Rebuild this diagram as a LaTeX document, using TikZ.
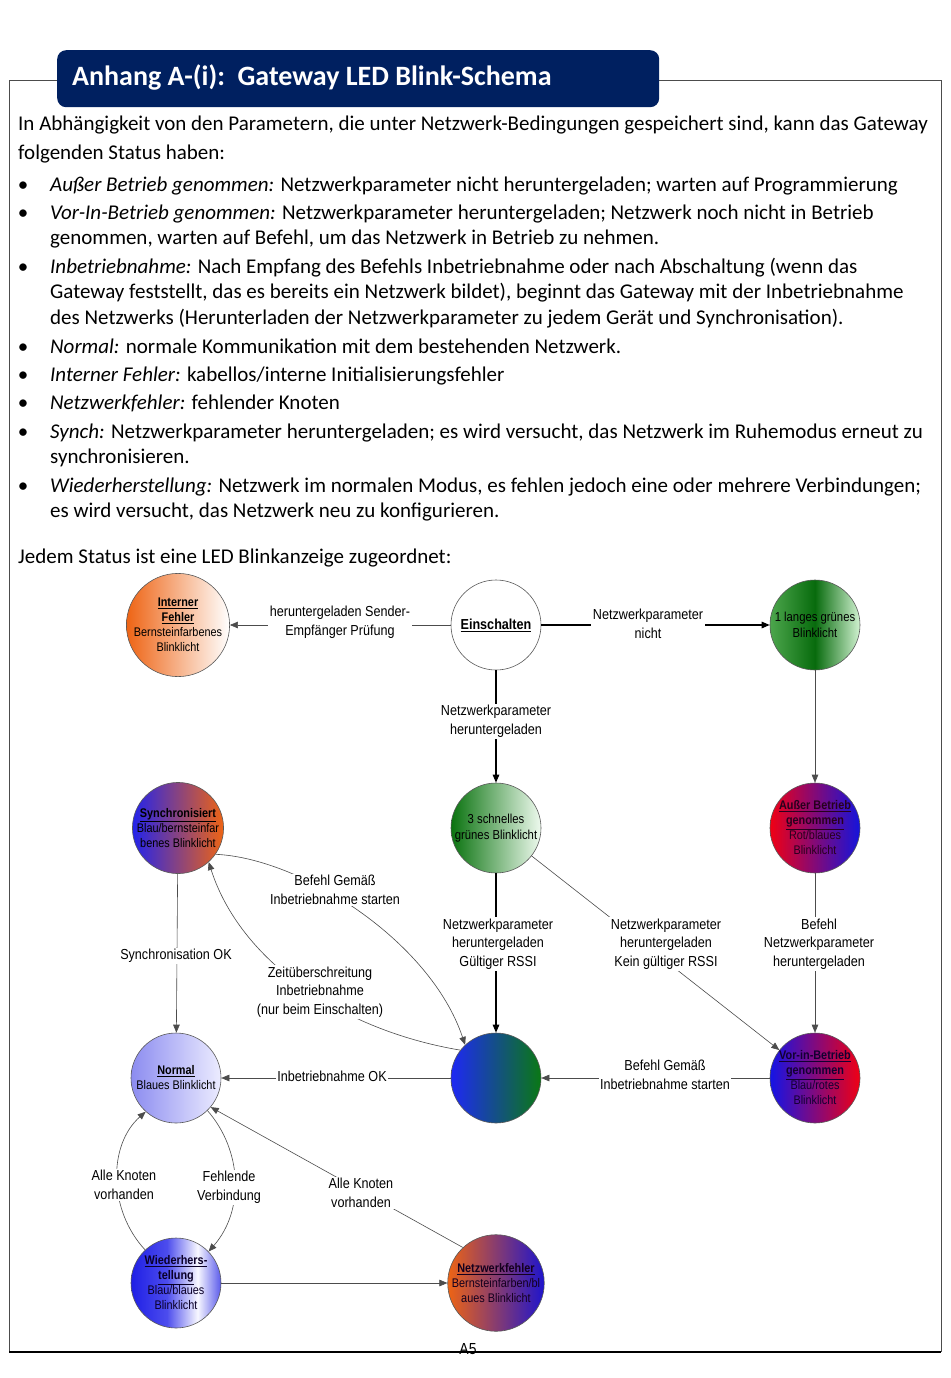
\documentclass[tikz,border=0pt]{standalone}
\usepackage{fontspec}
\setmainfont{Carlito}
\newfontfamily\nar[FakeStretch=0.87]{Liberation Sans}
\usetikzlibrary{arrows.meta}
\definecolor{hdr}{RGB}{0,32,96}
\definecolor{orng}{RGB}{238,100,20}
\definecolor{bl}{RGB}{35,35,235}
\definecolor{rd}{RGB}{240,0,20}
\definecolor{gr}{RGB}{10,115,15}
\pgfdeclarehorizontalshading{wiedsh}{100bp}{rgb(0bp)=(0.12,0.12,0.9); rgb(25bp)=(0.12,0.12,0.9); rgb(45bp)=(0.3,0.3,0.93); rgb(62bp)=(0.97,0.97,1); rgb(75bp)=(0.35,0.35,0.92); rgb(100bp)=(0.35,0.35,0.92)}
\pgfdeclarehorizontalshading{langsh}{100bp}{rgb(0bp)=(0.3,0.65,0.3); rgb(25bp)=(0.3,0.65,0.3); rgb(50bp)=(0.03,0.42,0.05); rgb(75bp)=(0.82,0.95,0.82); rgb(100bp)=(0.82,0.95,0.82)}
\begin{document}
\begin{tikzpicture}[x=1pt,y=-1pt,
  txt/.style={anchor=base west, inner sep=0pt, font=\fontsize{21}{25}\selectfont},
  bul/.style={anchor=base, inner sep=0pt, font=\fontsize{21}{25}\selectfont},
  st/.style={circle, draw=black!65, line width=0.6pt, minimum size=90pt, inner sep=0pt, align=center, font=\nar\fontsize{12.5}{15}\selectfont},
  lbl/.style={fill=white, inner sep=1.5pt, align=center, font=\nar\fontsize{14.5}{18.5}\selectfont},
  thinl/.style={draw=black!70, line width=0.6pt},
  thickl/.style={draw=black, line width=1.1pt},
  arr/.style={-{Triangle[length=8pt,width=6.5pt]}}]
\useasboundingbox (0,0) rectangle (950,1378);
\fill[white] (0,0) rectangle (950,1378);
% frame
\draw[black!70, line width=0.8pt] (9,1352) -- (9,80) -- (941,80) -- (941,1352);
\draw[black, line width=1.6pt] (9,1352) -- (941,1352);
% header
\node[fill=hdr, rounded corners=9pt, minimum width=602pt, minimum height=57pt, inner sep=0pt, anchor=north west] (hbox) at (57,50) {};
\node[anchor=west, inner sep=0pt, text=white, font=\bfseries\fontsize{28}{33}\selectfont] (htxt) at (72,77) {Anhang A-(i):\ \ Gateway LED Blink-Schema};
% body text
\node[txt] (t1) at (18,131) {In Abhängigkeit von den Parametern, die unter Netzwerk-Bedingungen gespeichert sind, kann das Gateway};
\node[txt] (t2) at (18,160) {folgenden Status haben:};
\node[bul] (b3) at (23,191) {\textbullet};
\node[txt] (t3) at (50,191) {\textit{Außer Betrieb genommen:} Netzwerkparameter nicht heruntergeladen; warten auf Programmierung};
\node[bul] (b4) at (23,219) {\textbullet};
\node[txt] (t4) at (50,219) {\textit{Vor-In-Betrieb genommen:} Netzwerkparameter heruntergeladen; Netzwerk noch nicht in Betrieb};
\node[txt] (t5) at (50,244) {genommen, warten auf Befehl, um das Netzwerk in Betrieb zu nehmen.};
\node[bul] (b6) at (23,273) {\textbullet};
\node[txt] (t6) at (50,273) {\textit{Inbetriebnahme:} Nach Empfang des Befehls Inbetriebnahme oder nach Abschaltung (wenn das};
\node[txt] (t7) at (50,298) {Gateway feststellt, das es bereits ein Netzwerk bildet), beginnt das Gateway mit der Inbetriebnahme};
\node[txt] (t8) at (50,324) {des Netzwerks (Herunterladen der Netzwerkparameter zu jedem Gerät und Synchronisation).};
\node[bul] (b9) at (23,353) {\textbullet};
\node[txt] (t9) at (50,353) {\textit{Normal:} normale Kommunikation mit dem bestehenden Netzwerk.};
\node[bul] (b10) at (23,381) {\textbullet};
\node[txt] (t10) at (50,381) {\textit{Interner Fehler:} kabellos/interne Initialisierungsfehler};
\node[bul] (b11) at (23,409) {\textbullet};
\node[txt] (t11) at (50,409) {\textit{Netzwerkfehler:} fehlender Knoten};
\node[bul] (b12) at (23,438) {\textbullet};
\node[txt] (t12) at (50,438) {\textit{Synch:} Netzwerkparameter heruntergeladen; es wird versucht, das Netzwerk im Ruhemodus erneut zu};
\node[txt] (t13) at (50,463) {synchronisieren.};
\node[bul] (b14) at (23,492) {\textbullet};
\node[txt] (t14) at (50,492) {\textit{Wiederherstellung:} Netzwerk im normalen Modus, es fehlen jedoch eine oder mehrere Verbindungen;};
\node[txt] (t15) at (50,517) {es wird versucht, das Netzwerk neu zu konfigurieren.};
\node[txt] (t16) at (18,563) {Jedem Status ist eine LED Blinkanzeige zugeordnet:};
% states
\node[st, left color=orng, right color=white] (intf) at (178,625) {\underline{\textbf{Interner}}\\\underline{\textbf{Fehler}}\\Bernsteinfarbenes\\Blinklicht};
\node[st, fill=white, font=\nar\bfseries\fontsize{14.5}{17}\selectfont] (ein) at (496,625) {\underline{Einschalten}};
\node[st, shading=langsh, font=\nar\fontsize{13}{16}\selectfont] (lang) at (815,625) {1 langes grünes\\Blinklicht};
\node[st, left color=bl, right color=orng] (sync) at (178,828) {\underline{\textbf{Synchronisiert}}\\Blau/bernsteinfar\\benes Blinklicht};
\node[st, left color=gr, right color={rgb,255:red,238;green,250;blue,238}, font=\nar\fontsize{13}{16}\selectfont] (schn) at (496,828) {3 schnelles\\grünes Blinklicht};
\node[st, left color=rd, right color={rgb,255:red,20;green,20;blue,220}, text={rgb,255:red,40;green,0;blue,30}] (aus) at (815,828) {\underline{\textbf{Außer Betrieb}}\\\underline{\textbf{genommen}}\\Rot/blaues\\Blinklicht};
\node[st, left color={rgb,255:red,140;green,140;blue,240}, right color={rgb,255:red,236;green,236;blue,255}] (norm) at (176,1078) {\underline{\textbf{Normal}}\\Blaues Blinklicht};
\node[st, left color={rgb,255:red,30;green,40;blue,245}, right color={rgb,255:red,10;green,120;blue,20}] (inb) at (496,1078) {};
\node[st, left color={rgb,255:red,20;green,20;blue,230}, right color=rd, text={rgb,255:red,20;green,0;blue,50}] (vor) at (815,1078) {\underline{\textbf{Vor-in-Betrieb}}\\\underline{\textbf{genommen}}\\Blau/rotes\\Blinklicht};
\node[st, shading=wiedsh, text={rgb,255:red,10;green,0;blue,40}] (wied) at (176,1283) {\underline{\textbf{Wiederhers-}}\\\underline{\textbf{tellung}}\\Blau/blaues\\Blinklicht};
\node[st, left color=orng, right color={rgb,255:red,30;green,20;blue,205}, text={rgb,255:red,20;green,0;blue,30}] (netz) at (496,1283) {\underline{\textbf{Netzwerkfehler}}\\Bernsteinfarben/bl\\aues Blinklicht};
% connectors
\draw[thinl, arr] (ein) -- (intf);
\draw[thickl, arr] (ein) -- (lang);
\draw[thickl, arr] (ein) -- (schn);
\draw[thinl, arr] (lang) -- (aus);
\draw[thinl, arr] (aus) -- (vor);
\draw[thickl, arr] (schn) -- (inb);
\draw[thinl, arr] (schn) -- (vor);
\draw[thinl, arr] (vor) -- (inb);
\draw[thinl, arr] (inb) -- (norm);
\draw[thinl, arr] (sync) -- (norm);
\draw[thinl, arr] (sync.-35) .. controls (300,858) and (430,940) .. (inb.133);
\draw[thinl, arr] (inb.142) .. controls (340,1030) and (240,960) .. (sync.-48);
\draw[thinl, arr] (wied.133) .. controls (108,1210) and (108,1145) .. (norm.-132);
\draw[thinl, arr] (norm.-46) .. controls (242,1150) and (245,1210) .. (wied.44);
\draw[thinl, arr] (netz.133) -- (norm.-40);
\draw[thinl, arr] (wied) -- (netz);
% labels
\node[lbl] (l1) at (340,622) {heruntergeladen Sender-\\Empfänger Prüfung};
\node[lbl] (l2) at (648,624) {Netzwerkparameter\\nicht};
\node[lbl] (l3) at (496,721) {Netzwerkparameter\\heruntergeladen};
\node[lbl] (l4) at (819,944) {Befehl\\Netzwerkparameter\\heruntergeladen};
\node[lbl] (l5) at (498,944) {Netzwerkparameter\\heruntergeladen\\Gültiger RSSI};
\node[lbl] (l6) at (666,944) {Netzwerkparameter\\heruntergeladen\\Kein gültiger RSSI};
\node[lbl] (l7) at (665,1075) {Befehl Gemäß\\Inbetriebnahme starten};
\node[lbl] (l8) at (332,1076) {Inbetriebnahme OK};
\node[lbl] (l9) at (176,956) {Synchronisation OK};
\node[lbl] (l10) at (335,890) {Befehl Gemäß\\Inbetriebnahme starten};
\node[lbl] (l11) at (320,992) {Zeitüberschreitung\\Inbetriebnahme\\(nur beim Einschalten)};
\node[lbl] (l12) at (124,1185) {Alle Knoten\\vorhanden};
\node[lbl] (l13) at (229,1187) {Fehlende\\Verbindung};
\node[lbl] (l14) at (361,1193) {Alle Knoten\\vorhanden};
\node[inner sep=0pt, font=\nar\fontsize{16}{18}\selectfont] (pg) at (468,1349) {A5};
\end{tikzpicture}
\end{document}
